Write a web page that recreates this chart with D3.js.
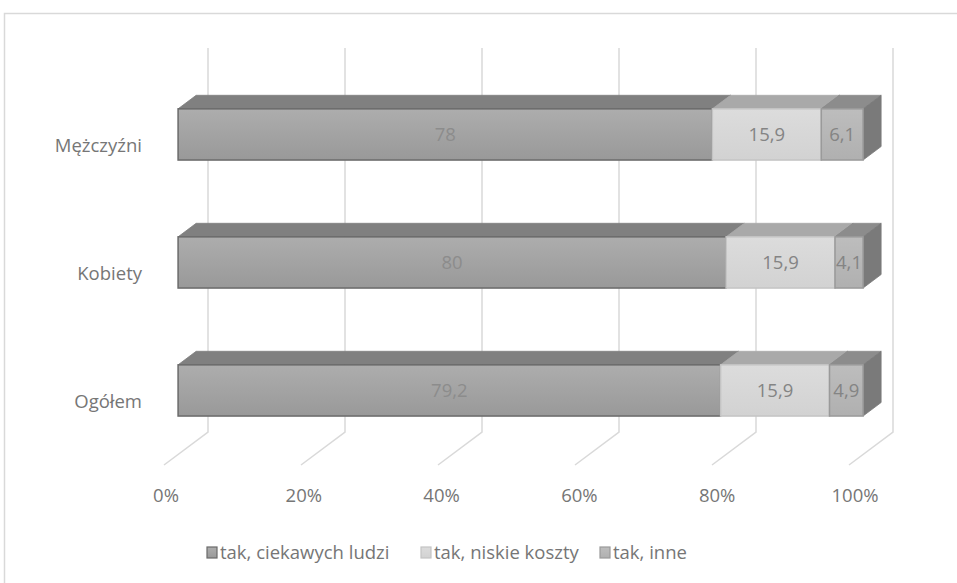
<!DOCTYPE html>
<html><head><meta charset="utf-8">
<script src="https://cdn.jsdelivr.net/npm/d3@7"></script>
<style>html,body{margin:0;padding:0;background:#fff;}svg{display:block;}</style>
</head><body>
<script>
const categories = ["Mężczyźni", "Kobiety", "Ogółem"];
const seriesNames = ["tak, ciekawych ludzi", "tak, niskie koszty", "tak, inne"];
const ciekawychLudzi = [78, 80, 79.2];
const niskieKoszty = [15.9, 15.9, 15.9];
const inne = [6.1, 4.1, 4.9];
const tickValues = [0, 20, 40, 60, 80, 100];
const labelTexts = [["78","15,9","6,1"],["80","15,9","4,1"],["79,2","15,9","4,9"]];

const W = 957, H = 583;
const FONT = "'Open Sans', Lato, sans-serif";
const FS = 18.5;
const svg = d3.select("body").append("svg").attr("width", W).attr("height", H);

// frame
svg.append("rect").attr("x", 4.5).attr("y", 13.5).attr("width", W).attr("height", H)
  .attr("fill", "none").attr("stroke", "#d9d9d9").attr("stroke-width", 1.5);

// 3D geometry (back wall coordinates + depth projection)
const x = d3.scaleLinear().domain([0, 100]).range([208, 893]);
const y = d3.scaleBand().domain(categories).range([48, 432]).paddingInner(0.6).paddingOuter(0.3);
const DX = -44, DY = 33;   // shift for depth z=1 (front)
const zBack = 0.27, zFront = 0.68;
const P = (xv, yv, z) => [xv + DX * z, yv + DY * z];

const styles = [
  {front: ["#adadad", "#999999"], top: "#808080", side: "#767676", stroke: "#6a6a6a", label: "#8c8c8c"},
  {front: ["#dcdcdc", "#d2d2d2"], top: "#a9a9a9", side: "#8f8f8f", stroke: "#c4c4c4", label: "#848484"},
  {front: ["#bdbdbd", "#b0b0b0"], top: "#8c8c8c", side: "#7a7a7a", stroke: "#9a9a9a", label: "#848484"}
];
const defs = svg.append("defs");
styles.forEach((s, i) => {
  const g = defs.append("linearGradient").attr("id", "g" + i).attr("x1", 0).attr("y1", 0).attr("x2", 0).attr("y2", 1);
  g.append("stop").attr("offset", "0%").attr("stop-color", s.front[0]);
  g.append("stop").attr("offset", "100%").attr("stop-color", s.front[1]);
});

// gridlines: back wall + floor
const grid = svg.append("g");
tickValues.forEach(t => {
  const bx = x(t);
  const f = P(bx, 432, 1);
  grid.append("path").attr("d", `M${bx},48 L${bx},432 L${f[0]},${f[1]}`)
    .attr("fill", "none").attr("stroke", "#d9d9d9").attr("stroke-width", 1.5);
});

// tick labels
svg.append("g").selectAll("text").data(tickValues).join("text")
  .attr("x", d => P(x(d), 432, 1)[0] + 2 + d * 0.04)
  .attr("y", 502)
  .attr("text-anchor", "middle")
  .attr("font-family", FONT).attr("font-size", FS).attr("fill", "#767676")
  .text(d => d + "%");

// category labels
svg.append("g").selectAll("text").data(categories).join("text")
  .attr("x", 142)
  .attr("y", d => y(d) + y.bandwidth() / 2 + DY + 6.5)
  .attr("text-anchor", "end")
  .attr("font-family", FONT).attr("font-size", FS).attr("fill", "#767676")
  .text(d => d);

// bars
const seriesData = [ciekawychLudzi, niskieKoszty, inne];
const pts = a => a.map(p => p.join(",")).join(" ");
categories.forEach((c, ci) => {
  const g = svg.append("g");
  let acc = 0;
  const y0 = y(c), y1 = y(c) + y.bandwidth();
  seriesData.forEach((ser, si) => {
    const v0 = acc, v1 = acc + ser[ci];
    acc = v1;
    const s = styles[si];
    const x0 = x(v0), x1 = x(v1);
    g.append("polygon").attr("points", pts([P(x0, y0, zFront), P(x1, y0, zFront), P(x1, y0, zBack), P(x0, y0, zBack)]))
      .attr("fill", s.top).attr("stroke", s.top).attr("stroke-width", 0.8);
    g.append("polygon").attr("points", pts([P(x1, y0, zFront), P(x1, y1, zFront), P(x1, y1, zBack), P(x1, y0, zBack)]))
      .attr("fill", s.side).attr("stroke", s.side).attr("stroke-width", 0.8);
    const f0 = P(x0, y0, zFront), f1 = P(x1, y1, zFront);
    g.append("rect").attr("x", f0[0]).attr("y", f0[1]).attr("width", f1[0] - f0[0]).attr("height", f1[1] - f0[1])
      .attr("fill", `url(#g${si})`).attr("stroke", s.stroke).attr("stroke-width", 1.5);
    g.append("text").attr("x", (f0[0] + f1[0]) / 2).attr("y", (f0[1] + f1[1]) / 2 + 7)
      .attr("text-anchor", "middle").attr("font-family", FONT).attr("font-size", FS)
      .attr("fill", s.label).text(labelTexts[ci][si]);
  });
});

// legend
const legendX = [207, 421, 600];
const lg = svg.append("g");
seriesNames.forEach((n, i) => {
  lg.append("rect").attr("x", legendX[i]).attr("y", 547).attr("width", 10).attr("height", 11)
    .attr("fill", `url(#g${i})`).attr("stroke", styles[i].stroke).attr("stroke-width", 1.2);
  lg.append("text").attr("x", legendX[i] + 13).attr("y", 559)
    .attr("font-family", FONT).attr("font-size", FS).attr("fill", "#767676").text(n);
});
</script>
</body></html>
